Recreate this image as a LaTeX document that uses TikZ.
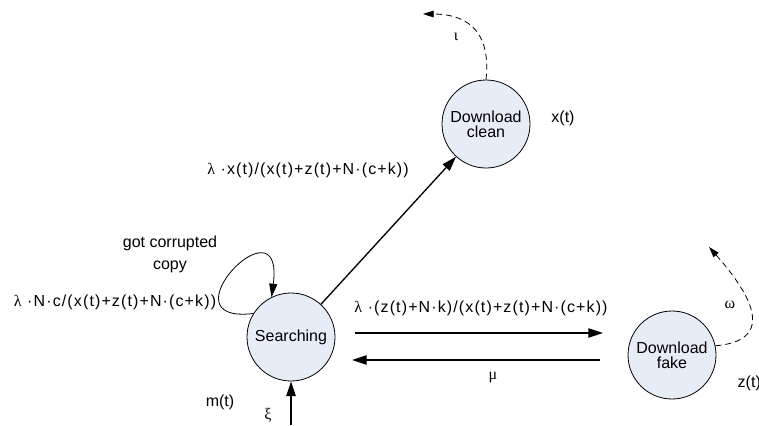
\documentclass[tikz,border=0pt]{standalone}
\usepackage{fontspec}
\setmainfont{Liberation Sans}
\newfontfamily\greekfont{Liberation Serif}
\usetikzlibrary{arrows.meta}
\definecolor{phasefill}{RGB}{231,237,247}
\newcommand{\grk}[1]{{\greekfont #1}}

\begin{document}
\begin{tikzpicture}[
			x=0.75pt, y=-0.75pt,
			phase/.style={circle, draw, line width=0.6pt, fill=phasefill,
				minimum size=66pt, inner sep=0pt, align=center,
				font=\fontsize{12}{11}\selectfont},
			rate/.style={font=\fontsize{12}{14}\selectfont\addfontfeature{LetterSpace=7}},
			tag/.style={font=\fontsize{12}{16.5}\selectfont},
			flow/.style={-{Triangle[length=11pt,width=7pt]}, line width=1pt},
			selfloop/.style={-{Triangle[length=10pt,width=6pt]}, line width=0.6pt},
			leak/.style={-{Triangle[length=8pt,width=5pt]}, dash pattern=on 4.5pt off 3pt, line width=0.6pt}
			]
			\useasboundingbox (0,0) rectangle (759,425);
			
			\node[phase] (search) at (291,337) {Searching};
			\node[phase] (clean) at (486,124) {Download\\clean};
			\node[phase] (fake) at (672,355) {Download\\fake};
			
			\node[rate] (rclean) at (308,170) {\grk{λ} ·x(t)/(x(t)+z(t)+N·(c+k))};
			\node[rate] (rloop) at (115,302) {\grk{λ} ·N·c/(x(t)+z(t)+N·(c+k))};
			\node[rate] (rfake) at (481,308) {\grk{λ} ·(z(t)+N·k)/(x(t)+z(t)+N·(c+k))};
			\node[tag, align=center] (corrupt) at (170,254) {got corrupted\\copy};
			\node[tag] (mu) at (493,378) {\grk{μ}};
			\node[tag] (omega) at (730,305) {\grk{ω}};
			\node[tag] (iota) at (456,37) {\grk{ι}};
			\node[tag] (xt) at (563,118) {x(t)};
			\node[tag, anchor=west] (zt) at (733,383) {z(t)};
			\node[tag] (mt) at (220,402) {m(t)};
			\node[tag] (xi) at (268,415) {\grk{ξ}};
			
			\coordinate (fwdA) at (355,333);
			\coordinate (fwdB) at (603,333);
			\coordinate (backA) at (600,360);
			\coordinate (backB) at (352,360);
			\coordinate (inflow) at (291,425);
			\coordinate (cleanout) at (423,14);
			\coordinate (fakeout) at (709,247);
			
			\draw[flow] (search) -- (clean);
			\draw[flow] (fwdA) -- (fwdB);
			\draw[flow] (backA) -- (backB);
			\draw[flow] (inflow) -- (search);
			\draw[selfloop] (search.148) .. controls (160,325) and (285,195) .. (search.116);
			\draw[leak] (clean.north) .. controls (492,25) and (460,14) .. (cleanout);
			\draw[leak] (fake.12) .. controls (785,340) and (740,282) .. (fakeout);
		\end{tikzpicture}
\end{document}
